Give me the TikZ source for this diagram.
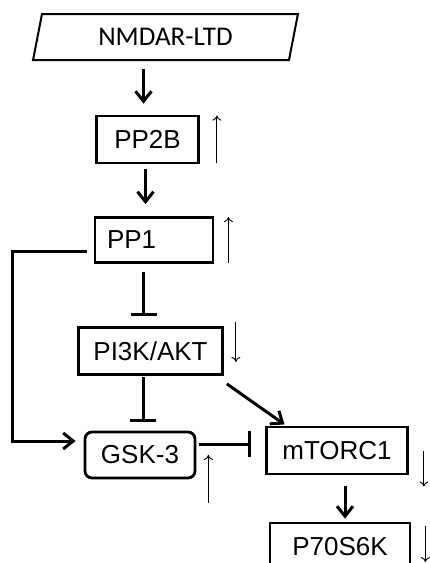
\documentclass[tikz,border=0pt]{standalone}
\usepackage{fontspec}
\setmainfont{Liberation Sans}
\newfontfamily\calfont{Carlito}
\usetikzlibrary{arrows.meta, shapes.geometric}

\begin{document}
\begin{tikzpicture}[
    x=1pt, y=-1pt,
    box/.style={draw, line width=2.8pt, rectangle, inner sep=0pt,
        font=\fontsize{26}{30}\selectfont},
    act/.style={line width=3pt, -{Straight Barb[length=10pt,width=16pt]}},
    inh/.style={line width=3pt, -{Bar[width=26pt]}},
    trend/.style={line width=0.9pt, -{To[length=5pt,width=9pt]}}
]
\clip (0,0) rectangle (430,563);

\node[draw, line width=2pt, trapezium, trapezium left angle=78,
    trapezium right angle=102, trapezium stretches=true,
    minimum width=265pt, minimum height=46pt,
    font=\calfont\fontsize{27}{30}\selectfont] (nmdar) at (165.5,37) {NMDAR-LTD};
\node[box, minimum width=102pt, minimum height=47pt] (pp2b) at (147.5,139.5) {PP2B};
\node[box, minimum height=45pt, text width=94pt, inner xsep=12pt,
    align=left] (pp1) at (154,240) {PP1};
\node[box, minimum width=144pt, minimum height=47pt] (pi3k) at (150.5,351) {PI3K/AKT};
\node[box, rounded corners=7pt, minimum width=110pt, minimum height=46pt] (gsk) at (140,455) {GSK-3};
\node[box, minimum width=141pt, minimum height=47pt] (mtorc) at (337,450.5) {mTORC1};
\node[box, minimum width=140pt, minimum height=48pt] (p70) at (340,547) {P70S6K};

% main cascade
\draw[act, shorten <=8pt, shorten >=11pt] ([xshift=-4pt]pp2b.north |- nmdar.south) -- ([xshift=-4pt]pp2b.north);
\draw[act, shorten <=5pt, shorten >=12pt] ([xshift=-2pt]pp2b.south) -- ([xshift=-2pt]pp2b.south |- pp1.north);
\draw[inh, shorten <=8pt, shorten >=10pt] ([xshift=-7pt]pi3k.north |- pp1.south) -- ([xshift=-7pt]pi3k.north);
\draw[inh, shorten <=1pt, shorten >=9pt] ([xshift=3pt]gsk.north |- pi3k.south) -- ([xshift=3pt]gsk.north);
\draw[act, shorten >=2pt] ([shift={(3,8)}]pi3k.south east) -- ([xshift=21pt]mtorc.north west);
\draw[inh, shorten <=3pt, shorten >=14pt] ([yshift=11pt]gsk.east) -- ([yshift=11pt]gsk.east -| mtorc.west);
\draw[act, shorten <=11pt, shorten >=3pt] ([xshift=8pt]mtorc.south) -- ([xshift=8pt]mtorc.south |- p70.north);

% side branch
\draw[act, shorten <=7pt, shorten >=8pt] ([yshift=-11pt]pp1.west) -- ++(-81,0) |- ([yshift=14pt]gsk.west);

% trends
\draw[trend] ([shift={(17,-1)}]pp2b.south east) -- ([shift={(17,1)}]pp2b.north east);
\draw[trend] ([shift={(14,-1)}]pp1.south east) -- ([shift={(14,1)}]pp1.north east);
\draw[trend] ([shift={(12,-4)}]pi3k.north east) -- ([shift={(12,-14)}]pi3k.south east);
\draw[trend] ([shift={(12,24)}]gsk.south east) -- ([xshift=12pt]gsk.east);
\draw[trend] ([xshift=15pt]mtorc.east) -- ([shift={(15,11)}]mtorc.south east);
\draw[trend] ([shift={(14,4)}]p70.north east) -- ([shift={(14,15)}]p70.east);
\end{tikzpicture}
\end{document}
